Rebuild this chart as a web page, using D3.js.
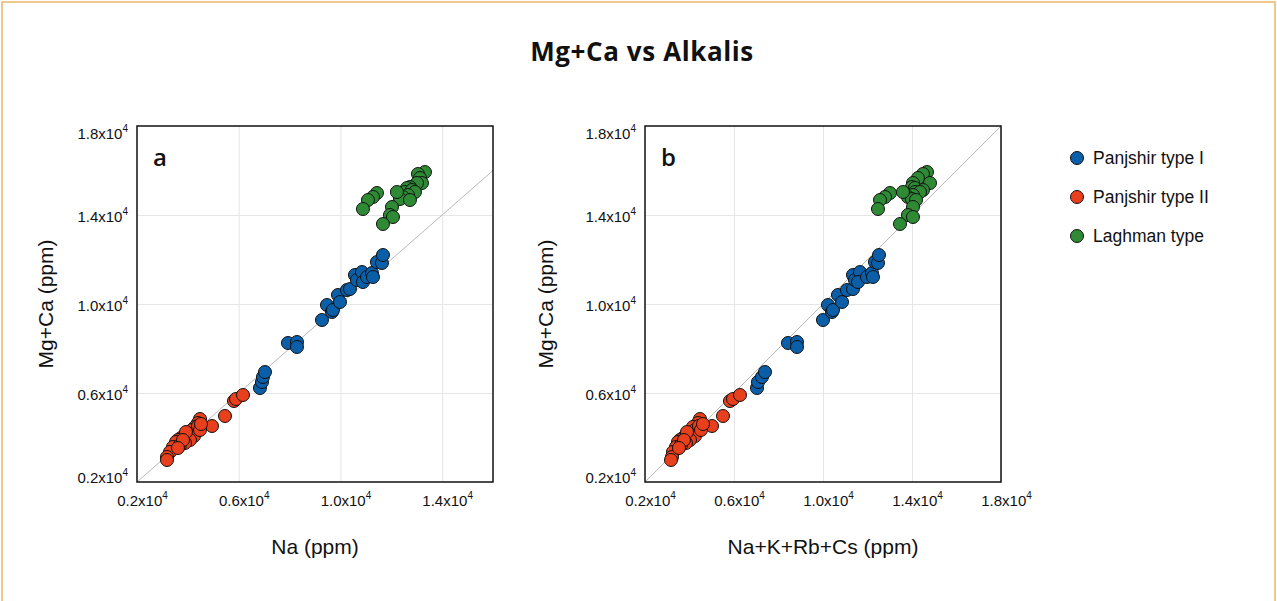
<!DOCTYPE html>
<meta charset="utf-8">
<html>
<head>
  <script src="https://d3js.org/d3.v7.min.js"></script>
  <style>
    body { margin: 0; background: #fff; }
    text { font-family: "Liberation Sans", Arial, sans-serif; }
  </style>
</head>
<body>
<div id="chart"></div>
<script>

// ---- data (ppm) ----
var groups = ["Panjshir type I", "Panjshir type II", "Laghman type"];
var colors = ["#0b5ea8", "#e83f1c", "#2f8a35"];

// Panjshir type I
var blueMgCa = [6224, 6494, 6719, 6943, 8247, 8292, 8067, 9280, 9954, 9640, 9730, 10404, 10089, 10628, 10673, 11303, 11078, 11437, 10988, 11213, 11392, 11213, 11887, 11842, 12201];
var blueNa   = [6836, 6915, 6954, 7033, 7937, 8291, 8291, 9274, 9471, 9667, 9707, 9903, 9982, 10257, 10375, 10572, 10650, 10847, 10886, 11044, 11240, 11280, 11437, 11633, 11673];
var blueAlk  = [7033, 7078, 7258, 7393, 8426, 8831, 8831, 9999, 10224, 10404, 10449, 10673, 10853, 11078, 11348, 11348, 11437, 11662, 11572, 11977, 12201, 12246, 12336, 12471, 12516];

// Panjshir type II
var redMgCa = [4966, 4517, 4831, 4651, 4472, 4337, 4157, 4067, 3977, 3977, 3887, 3798, 3573, 3348, 3124, 2989, 4247, 4067, 3887, 3753, 3663, 5640, 5730, 5910, 4517, 4337, 4247, 3887, 4607, 3528];
var redNa   = [5460, 4949, 4477, 4399, 4281, 4163, 4045, 3848, 3966, 3730, 3612, 3533, 3416, 3298, 3180, 3180, 4320, 4241, 4084, 3887, 3691, 5814, 5893, 6168, 4399, 4477, 3927, 3809, 4516, 3612];
var redAlk  = [5505, 5011, 4472, 4382, 4157, 4247, 4022, 3843, 3932, 3708, 3573, 3483, 3393, 3258, 3213, 3168, 4337, 4247, 4022, 3843, 3618, 5820, 5955, 6269, 4427, 4517, 3887, 3753, 4607, 3528];

// Laghman type
var greenMgCa = [15931, 15842, 15662, 15437, 15437, 15257, 15212, 15033, 15122, 15033, 14898, 14808, 14718, 14673, 15033, 14988, 14808, 14673, 14269, 14359, 13999, 13909, 13595];
var greenNa   = [13324, 13049, 13128, 13206, 13010, 12734, 12616, 12538, 12813, 12931, 12656, 12459, 12341, 12734, 12223, 11437, 11280, 11083, 10886, 12027, 11948, 12066, 11673];
var greenAlk  = [14673, 14493, 14269, 14808, 14044, 13999, 14134, 14134, 14493, 14359, 14044, 13819, 13999, 14179, 13595, 13010, 12786, 12561, 12471, 14044, 13819, 14044, 13460];

var yTicks = [2000, 6000, 10000, 14000, 18000];
var xTicksA = [2000, 6000, 10000, 14000];
var xTicksB = [2000, 6000, 10000, 14000, 18000];

var width = 1277, height = 601;
var svg = d3.select("#chart").append("svg")
  .attr("width", width)
  .attr("height", height);

// outer frame
svg.append("rect")
  .attr("x", 2).attr("y", 2)
  .attr("width", width - 4).attr("height", height + 20)
  .attr("fill", "none")
  .attr("stroke", "#e8b868")
  .attr("stroke-width", 1.5);

svg.append("text")
  .attr("x", 642).attr("y", 61)
  .attr("text-anchor", "middle")
  .style("font-family", "'Open Sans', sans-serif")
  .style("font-weight", 700)
  .style("font-size", "26px")
  .style("letter-spacing", "0.6px")
  .attr("fill", "#111")
  .text("Mg+Ca vs Alkalis");

function sciLabel(sel) {
  sel.each(function(d) {
    var t = d3.select(this);
    t.text(null);
    t.append("tspan").text((d / 10000).toFixed(1) + "x10");
    t.append("tspan").attr("dy", -7).style("font-size", "10px").text("4");
  });
}

function panel(left, xMax, xTicks, letter, xTitle, xKey, yTitleOff) {
  var top = 126, w = 356, h = 356;
  var g = svg.append("g").attr("transform", "translate(" + left + "," + top + ")");

  var x = d3.scaleLinear().domain([2000, xMax]).range([0, w]);
  var y = d3.scaleLinear().domain([2000, 18000]).range([h, 0]);

  // grid
  g.append("g")
    .attr("transform", "translate(0," + h + ")")
    .call(d3.axisBottom(x).tickValues(xTicks.slice(1)).tickSize(-h).tickFormat(""))
    .call(function(a) { a.select(".domain").remove(); })
    .selectAll("line").attr("stroke", "#e6e6e6");
  g.append("g")
    .call(d3.axisLeft(y).tickValues(yTicks.slice(1, -1)).tickSize(-w).tickFormat(""))
    .call(function(a) { a.select(".domain").remove(); })
    .selectAll("line").attr("stroke", "#e6e6e6");

  // 1:1 line
  var m = Math.min(xMax, 18000);
  g.append("line")
    .attr("x1", x(2000)).attr("y1", y(2000))
    .attr("x2", x(m)).attr("y2", y(m))
    .attr("stroke", "#b8b8b8").attr("stroke-width", 1);

  // tick labels
  var xa = g.append("g")
    .attr("transform", "translate(0," + h + ")")
    .call(d3.axisBottom(x).tickValues(xTicks).tickSize(0).tickPadding(13));
  xa.select(".domain").remove();
  xa.selectAll("text")
    .attr("dx", 5)
    .style("font-size", "15px")
    .attr("fill", "#111")
    .call(sciLabel);

  var ya = g.append("g")
    .call(d3.axisLeft(y).tickValues(yTicks).tickSize(0).tickPadding(9));
  ya.select(".domain").remove();
  ya.selectAll("text")
    .style("font-size", "15px")
    .attr("fill", "#111")
    .attr("dy", function(d) { return d === 18000 ? "0.8em" : (d === 2000 ? "0em" : "0.4em"); })
    .call(sciLabel);

  // points
  var sets = [
    [blueMgCa, xKey === "na" ? blueNa : blueAlk, 0],
    [redMgCa, xKey === "na" ? redNa : redAlk, 1],
    [greenMgCa, xKey === "na" ? greenNa : greenAlk, 2]
  ];
  sets.forEach(function(s) {
    var pts = s[0].map(function(v, i) { return {y: v, x: s[1][i]}; });
    g.selectAll("circle.g" + s[2])
      .data(pts)
      .enter()
      .append("circle")
      .attr("class", "g" + s[2])
      .attr("cx", function(d) { return x(d.x); })
      .attr("cy", function(d) { return y(d.y); })
      .attr("r", 6.5)
      .attr("fill", colors[s[2]])
      .attr("stroke", "#111")
      .attr("stroke-width", 1);
  });

  // frame
  g.append("rect")
    .attr("width", w).attr("height", h)
    .attr("fill", "none")
    .attr("stroke", "#111")
    .attr("stroke-width", 1.5);

  g.append("text")
    .attr("x", 16).attr("y", 40)
    .style("font-family", "'Open Sans', sans-serif")
    .style("font-weight", 600)
    .style("font-size", "24px")
    .attr("fill", "#111")
    .text(letter);

  g.append("text")
    .attr("x", w / 2).attr("y", h + 72)
    .attr("text-anchor", "middle")
    .style("font-size", "21px")
    .attr("fill", "#111")
    .text(xTitle);

  g.append("text")
    .attr("transform", "translate(" + yTitleOff + "," + (h / 2) + ") rotate(-90)")
    .attr("text-anchor", "middle")
    .style("font-size", "21px")
    .attr("fill", "#111")
    .text("Mg+Ca (ppm)");
}

panel(137, 16000, xTicksA, "a", "Na (ppm)", "na", -84);
panel(645, 18000, xTicksB, "b", "Na+K+Rb+Cs (ppm)", "alk", -92);

// legend
var leg = svg.append("g");
groups.forEach(function(name, i) {
  leg.append("circle")
    .attr("cx", 1077).attr("cy", 158 + i * 39)
    .attr("r", 6.5)
    .attr("fill", colors[i])
    .attr("stroke", "#111")
    .attr("stroke-width", 1);
  leg.append("text")
    .attr("x", 1093).attr("y", 158 + i * 39)
    .attr("dy", "0.35em")
    .style("font-size", "17.5px")
    .attr("fill", "#111")
    .text(name);
});

</script>
</body>
</html>
